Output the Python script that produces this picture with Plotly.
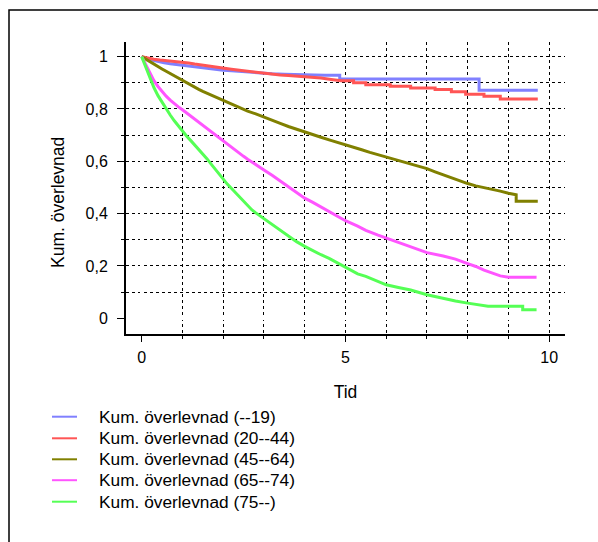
import plotly.graph_objects as go

# ---------------- data ----------------
series_names = [
    "Kum. överlevnad (--19)",
    "Kum. överlevnad (20--44)",
    "Kum. överlevnad (45--64)",
    "Kum. överlevnad (65--74)",
    "Kum. överlevnad (75--)",
]

# Kaplan-Meier read-offs; repeated times mark a vertical drop of the step curve
t_19 = [0, 0.1, 0.25, 0.4, 0.55, 0.7, 0.85, 1.0, 1.2, 1.4, 1.6, 1.8, 2.0, 2.2, 2.5, 2.7, 3.0,
        3.2, 3.5, 3.8, 4.5, 4.86, 4.86, 8.28, 8.28, 9.72]
s_19 = [1, 0.993, 0.987, 0.981, 0.977, 0.973, 0.97, 0.966, 0.962, 0.958, 0.954, 0.95, 0.948,
        0.946, 0.942, 0.94, 0.937, 0.935, 0.933, 0.931, 0.929, 0.929, 0.915, 0.915, 0.872, 0.872]

t_20_44 = [0, 0.1, 0.2, 0.3, 0.45, 0.6, 0.8, 1.0, 1.15, 1.3, 1.5, 1.7, 1.85, 2.0, 2.2, 2.4,
           2.6, 2.8, 3.0, 3.2, 3.4, 3.6, 3.8, 4.0, 4.2, 4.4, 4.65, 4.9,
           5.2, 5.2, 5.5, 5.5, 6.1, 6.1, 6.6, 6.6, 7.2, 7.2, 7.6, 7.6, 7.95, 7.95,
           8.4, 8.4, 8.8, 8.8, 9.72]
s_20_44 = [1, 0.996, 0.993, 0.99, 0.987, 0.985, 0.982, 0.98, 0.976, 0.972, 0.967, 0.962, 0.959,
           0.956, 0.952, 0.948, 0.944, 0.94, 0.936, 0.933, 0.93, 0.928, 0.926, 0.924, 0.921,
           0.918, 0.913, 0.908,
           0.908, 0.900, 0.900, 0.893, 0.893, 0.887, 0.887, 0.880, 0.880, 0.874, 0.874, 0.866,
           0.866, 0.856, 0.856, 0.849, 0.849, 0.838, 0.838]

t_45_64 = [0, 0.1, 0.2, 0.3, 0.4, 0.5, 0.6, 0.7, 0.8, 0.9, 1.0, 1.1, 1.2, 1.3, 1.4, 1.5, 1.6,
           1.7, 1.8, 1.9, 2.0, 2.2, 2.4, 2.6, 2.8, 3.0, 3.2, 3.4, 3.6, 3.8, 4.0, 4.2, 4.4, 4.6,
           4.8, 5.0, 5.2, 5.4, 5.6, 5.8, 6.0, 6.2, 6.4, 6.6, 6.8, 7.0, 7.2, 7.4, 7.6, 7.8, 8.0,
           8.2, 8.4, 8.6, 8.8, 9.0, 9.19, 9.19, 9.72]
s_45_64 = [1, 0.99, 0.98, 0.971, 0.962, 0.953, 0.944, 0.935, 0.926, 0.917, 0.909, 0.9, 0.892,
           0.883, 0.875, 0.867, 0.86, 0.852, 0.845, 0.838, 0.831, 0.818, 0.805, 0.792, 0.781,
           0.77, 0.758, 0.745, 0.733, 0.722, 0.712, 0.702, 0.692, 0.682, 0.673, 0.664, 0.655,
           0.644, 0.634, 0.625, 0.617, 0.608, 0.6, 0.59, 0.581, 0.572, 0.56, 0.548, 0.537,
           0.526, 0.515, 0.506, 0.5, 0.494, 0.486, 0.478, 0.472, 0.447, 0.447]

t_65_74 = [0, 0.1, 0.2, 0.3, 0.4, 0.5, 0.6, 0.7, 0.8, 0.9, 1.0, 1.1, 1.2, 1.3, 1.4, 1.5,
           1.6, 1.7, 1.8, 1.9, 2.0, 2.1, 2.2, 2.3, 2.4, 2.5, 2.6, 2.7, 2.8, 2.9, 3.0, 3.2, 3.4,
           3.6, 3.8, 4.0, 4.2, 4.4, 4.6, 4.8, 5.0, 5.3, 5.5, 5.8, 6.0, 6.3, 6.6, 7.0, 7.4, 7.7,
           8.0, 8.2, 8.4, 8.6, 8.8, 9.0, 9.69]
s_65_74 = [1, 0.968, 0.935, 0.908, 0.886, 0.866, 0.849, 0.834, 0.82, 0.808, 0.797, 0.785,
           0.774, 0.762, 0.75, 0.738, 0.725, 0.712, 0.7, 0.688, 0.676, 0.665, 0.653, 0.642,
           0.63, 0.619, 0.608, 0.597, 0.587, 0.577, 0.567, 0.547, 0.525, 0.502, 0.48, 0.459,
           0.443, 0.426, 0.408, 0.39, 0.373, 0.352, 0.336, 0.318, 0.307, 0.292, 0.275, 0.251,
           0.238, 0.226, 0.209, 0.198, 0.184, 0.172, 0.162, 0.157, 0.157]

t_75 = [0, 0.1, 0.2, 0.3, 0.4, 0.5, 0.6, 0.7, 0.8, 0.9, 1.0, 1.1, 1.2, 1.3, 1.4, 1.5, 1.6,
        1.7, 1.8, 1.9, 2.0, 2.1, 2.2, 2.3, 2.4, 2.5, 2.6, 2.7, 2.8, 2.9, 3.0, 3.2, 3.4, 3.6,
        3.8, 4.0, 4.2, 4.4, 4.6, 4.8, 5.0, 5.3, 5.5, 5.8, 6.0, 6.3, 6.6, 7.0, 7.2, 7.45, 7.7,
        8.0, 8.5, 9.35, 9.35, 9.69]
s_75 = [1, 0.958, 0.918, 0.882, 0.851, 0.825, 0.8, 0.777, 0.755, 0.735, 0.715, 0.697, 0.68,
        0.663, 0.647, 0.63, 0.61, 0.59, 0.57, 0.55, 0.53, 0.513, 0.497, 0.48, 0.462, 0.445,
        0.429, 0.415, 0.403, 0.392, 0.382, 0.358, 0.336, 0.314, 0.293, 0.275, 0.258, 0.243,
        0.229, 0.212, 0.193, 0.17, 0.16, 0.14, 0.128, 0.118, 0.108, 0.09, 0.083, 0.072, 0.066,
        0.058, 0.046, 0.046, 0.033, 0.033]

x_tick_vals = [0, 5, 10]
x_tick_labels = ["0", "5", "10"]
x_minor_vals = [1, 2, 3, 4, 6, 7, 8, 9]
y_tick_vals = [0, 0.2, 0.4, 0.6, 0.8, 1.0]
y_tick_labels = ["0", "0,2", "0,4", "0,6", "0,8", "1"]
y_minor_vals = [0.1, 0.3, 0.5, 0.7, 0.9]

x_title = "Tid"
y_title = "Kum. överlevnad"

# ---------------- styling ----------------
colors = ["#8080ff", "#ff5555", "#808000", "#ff55ff", "#55ff55"]
FONT = "Liberation Sans, Arial, sans-serif"
W, H = 598, 542
ML, MR, MT, MB = 126, 33, 42, 208
PW, PH = W - ML - MR, H - MT - MB


def px(xp):
    return (xp - ML) / PW


def py(yp):
    return (H - MB - yp) / PH


series_t = [t_19, t_20_44, t_45_64, t_65_74, t_75]
series_s = [s_19, s_20_44, s_45_64, s_65_74, s_75]

fig = go.Figure()
for name, t, s, c in zip(series_names, series_t, series_s, colors):
    fig.add_trace(go.Scatter(
        x=t, y=s, name=name, mode="lines",
        line=dict(color=c, width=3, shape="linear"),
        showlegend=False,
    ))

grid = dict(showgrid=True, gridcolor="#000000", gridwidth=1, griddash="dot")

fig.update_xaxes(
    range=[-0.385, 10.388],
    tickmode="array", tickvals=x_tick_vals, ticktext=x_tick_labels,
    ticks="outside", ticklen=6, tickwidth=1, tickcolor="#000",
    ticklabelstandoff=2,
    showline=True, linecolor="#000", linewidth=2,
    zeroline=True, zerolinecolor="#ffffff", zerolinewidth=3,
    minor=dict(tickmode="array", tickvals=x_minor_vals, ticks="outside", ticklen=3,
               tickcolor="#000", **grid),
    title=dict(text=x_title, font=dict(size=17.5, color="#000", family=FONT), standoff=21),
    tickfont=dict(size=16, color="#000", family=FONT),
    **grid,
)
fig.update_yaxes(
    range=[-0.060, 1.056],
    tickmode="array", tickvals=y_tick_vals, ticktext=y_tick_labels,
    ticks="outside", ticklen=7, tickwidth=1, tickcolor="#000",
    ticklabelstandoff=6,
    showline=True, linecolor="#000", linewidth=2,
    zeroline=True, zerolinecolor="#ffffff", zerolinewidth=3,
    minor=dict(tickmode="array", tickvals=y_minor_vals, ticks="outside", ticklen=3,
               tickcolor="#000", **grid),
    tickfont=dict(size=16, color="#000", family=FONT),
    **grid,
)

annotations = [dict(
    text=y_title, xref="paper", yref="paper", x=px(58), y=py(203),
    textangle=-90, showarrow=False, xanchor="center", yanchor="middle",
    font=dict(size=17.5, color="#000", family=FONT),
)]
shapes = [dict(
    type="rect", xref="paper", yref="paper",
    x0=px(9), x1=px(610), y0=py(560), y1=py(10),
    line=dict(color="#000", width=1.5), fillcolor="rgba(0,0,0,0)", layer="below",
)]

legend_y = [416.7, 438.3, 459.3, 480.2, 501.7]
for name, c, yy in zip(series_names, colors, legend_y):
    shapes.append(dict(type="line", xref="paper", yref="paper",
                       x0=px(52), x1=px(77), y0=py(yy), y1=py(yy),
                       line=dict(color=c, width=2)))
    annotations.append(dict(text=name, xref="paper", yref="paper",
                            x=px(97), y=py(yy), xanchor="left", yanchor="middle",
                            showarrow=False,
                            font=dict(size=17.3, color="#000", family=FONT)))

fig.update_layout(
    width=W, height=H,
    margin=dict(l=ML, r=MR, t=MT, b=MB, autoexpand=False),
    paper_bgcolor="#ffffff", plot_bgcolor="#ffffff",
    font=dict(family=FONT, color="#000"),
    annotations=annotations, shapes=shapes,
    showlegend=False,
)

fig.write_html(
    "out.html",
    config={"displayModeBar": False},
    post_script="document.body.style.margin='0';document.body.style.overflow='hidden';",
)
